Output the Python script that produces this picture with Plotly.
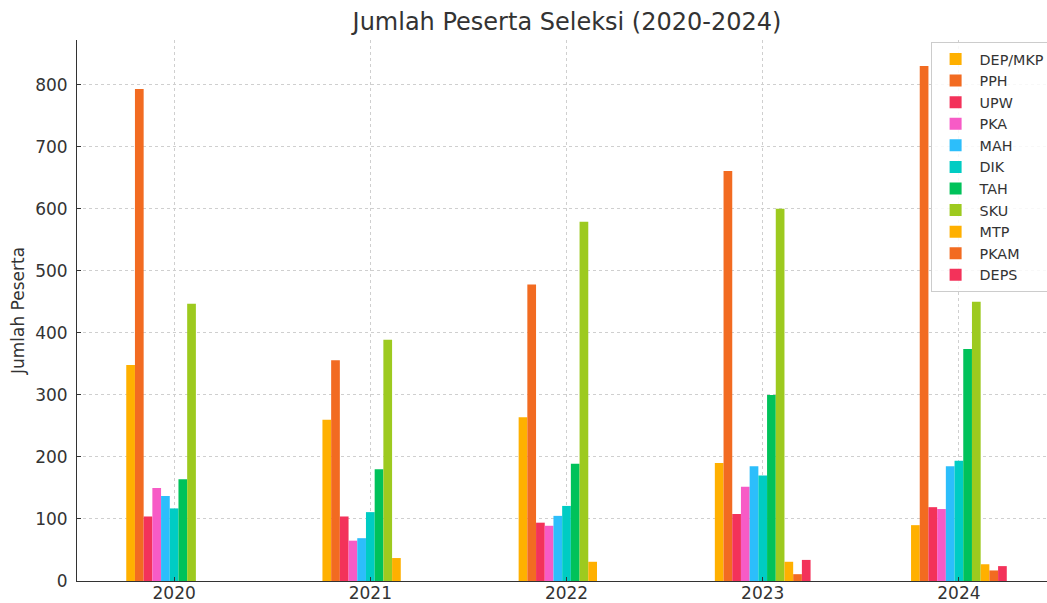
import plotly.graph_objects as go

years = ["2020", "2021", "2022", "2023", "2024"]
series_names = ["DEP/MKP", "PPH", "UPW", "PKA", "MAH", "DIK", "TAH", "SKU", "MTP", "PKAM", "DEPS"]
dep_mkp = [348, 260, 264, 190, 90]
pph = [793, 356, 478, 661, 830]
upw = [104, 104, 94, 108, 119]
pka = [150, 65, 89, 152, 116]
mah = [137, 69, 105, 185, 185]
dik = [117, 111, 121, 170, 194]
tah = [164, 180, 189, 300, 374]
sku = [447, 389, 579, 600, 450]
mtp = [0, 37, 31, 31, 27]
pkam = [0, 0, 0, 11, 17]
deps = [0, 0, 0, 34, 24]

values = [dep_mkp, pph, upw, pka, mah, dik, tah, sku, mtp, pkam, deps]
colors = ["#FFB000", "#F26B21", "#F3325A", "#F75BC6", "#2CBEFB", "#00CCC3",
          "#00C25A", "#9DCA1F", "#FFB000", "#F26B21", "#F3325A"]

fig = go.Figure()
for name, vals, col in zip(series_names, values, colors):
    fig.add_trace(go.Bar(name=name, x=years, y=vals, legendgroup=name,
                         marker=dict(color=col, line=dict(width=0))))

font_family = "DejaVu Sans"
txt = "#333333"
fig.update_layout(
    width=1047, height=603,
    barmode="group", bargap=0.512, bargroupgap=0,
    plot_bgcolor="white", paper_bgcolor="white",
    margin=dict(l=77, r=0, t=40, b=22, autoexpand=False),
    font=dict(family=font_family, color=txt),
    title=dict(text="Jumlah Peserta Seleksi (2020-2024)", x=567 / 1047, xanchor="center",
               y=1 - 22 / 603, yanchor="middle",
               font=dict(size=24, family=font_family, color=txt)),
    legend=dict(x=0.880, y=0.996, xanchor="left", yanchor="top", bgcolor="rgba(255,255,255,0.85)",
                bordercolor="#cccccc", borderwidth=1, font=dict(size=14.3, family=font_family, color=txt),
                tracegroupgap=0, itemwidth=38),
)
grid = "#cfcfcf"
fig.update_xaxes(range=[-0.495, 4.449], showline=True, linecolor=txt, linewidth=1,
                 ticks="inside", ticklen=4, tickcolor=txt, automargin=False,
                 ticklabelstandoff=-3,
                 showgrid=True, gridcolor=grid, griddash="3px,3px", gridwidth=1,
                 tickfont=dict(size=17, family=font_family, color=txt))
fig.update_yaxes(range=[0, 872], showline=True, linecolor=txt, linewidth=1,
                 ticks="inside", ticklen=4, tickcolor=txt, dtick=100, automargin=False,
                 ticklabelstandoff=5,
                 showgrid=True, gridcolor=grid, griddash="3px,3px", gridwidth=1, zeroline=False,
                 tickfont=dict(size=17, family=font_family, color=txt),
                 title=dict(text="Jumlah Peserta", font=dict(size=17, family=font_family, color=txt), standoff=6))
fig.write_html("out.html", config={"displayModeBar": False},
               post_script="document.body.style.margin='0px';document.body.style.overflow='hidden';")
